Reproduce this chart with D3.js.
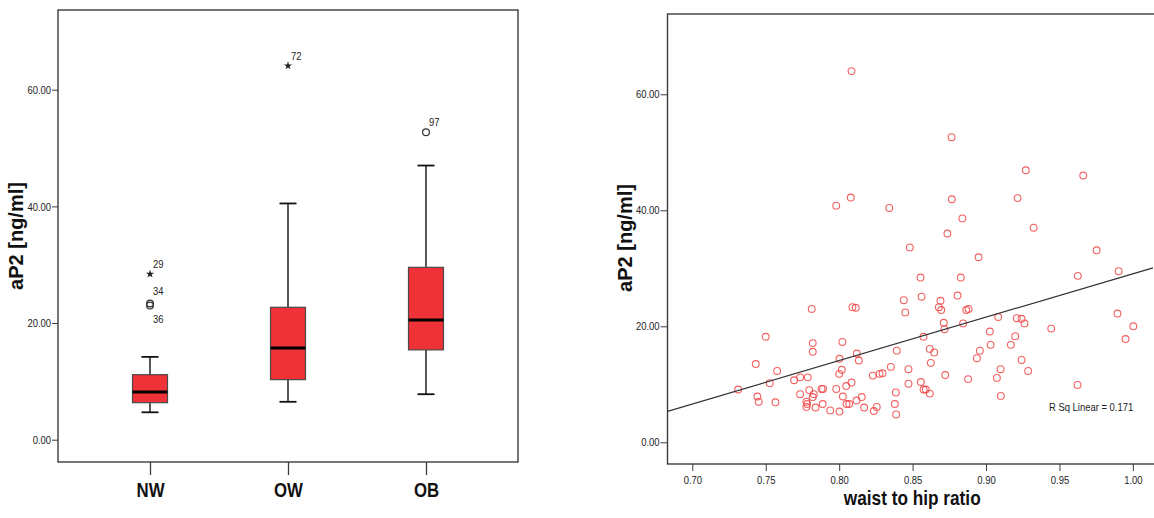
<!DOCTYPE html>
<html>
<head>
<meta charset="utf-8">
<script src="https://cdn.jsdelivr.net/npm/d3@7/dist/d3.min.js"></script>
<style>
  html, body { margin: 0; padding: 0; background: #fff; }
  svg { display: block; }
  .narrow { font-family: "Liberation Sans", Arial, sans-serif; }
  .bold { font-family: "Liberation Sans", Arial, sans-serif; font-weight: bold; }
</style>
</head>
<body>
<svg id="chart" width="1154" height="518"></svg>
<script>
// ---- Box plot: aP2 by weight group ----
const groups = ["NW", "OW", "OB"];
const whiskerLow = [4.7, 6.5, 7.8];
const quartile1 = [6.35, 10.3, 15.4];
const medians = [8.2, 15.7, 20.5];
const quartile3 = [11.15, 22.7, 29.55];
const whiskerHigh = [14.2, 40.5, 47.0];
const outlierGroup = ["NW", "NW", "NW", "OW", "OB"];
const outlierValue = [28.4, 23.35, 23.0, 64.1, 52.7];
const outlierCase = ["29", "34", "36", "72", "97"];
const outlierExtreme = [true, false, false, true, false];

// ---- Scatter: aP2 vs waist to hip ratio ----
const whr = [
  0.8084, 0.8079, 0.7980, 0.8341, 0.8765, 0.9271, 0.9662, 0.8767, 0.9215, 0.8839,
  0.8737, 0.9324, 0.8949, 0.9753, 0.9625, 0.9903, 0.8828, 0.8554, 0.8561, 0.8806,
  0.8690, 0.8679, 0.8695, 0.8865, 0.8881, 0.8712, 0.8717, 0.8844, 0.9083, 0.9210,
  0.9242, 0.9262, 0.9444, 0.9026, 0.9199, 0.9031, 0.9169, 0.9895, 1.0003, 0.9950,
  0.8574, 0.8617, 0.8647, 0.8624, 0.8958, 0.8938, 0.9242, 0.9287, 0.9099, 0.9074,
  0.8722, 0.8878, 0.8617, 0.9101, 0.9623, 0.8556, 0.8575, 0.8590, 0.8481, 0.8440,
  0.8450, 0.7813, 0.8090, 0.8113, 0.7500, 0.7820, 0.7820, 0.8022, 0.8392, 0.8002,
  0.8120, 0.8134, 0.7432, 0.7578, 0.8352, 0.8018, 0.8000, 0.8472, 0.8229, 0.8275,
  0.8295, 0.7693, 0.7734, 0.7786, 0.7527, 0.7312, 0.7796, 0.7880, 0.7890, 0.7980,
  0.8048, 0.8084, 0.8472, 0.8386, 0.7734, 0.7827, 0.7820, 0.7443, 0.7452, 0.7566,
  0.8025, 0.8154, 0.8118, 0.7777, 0.7782, 0.7839, 0.7777, 0.7888, 0.7939, 0.8002,
  0.8050, 0.8068, 0.8170, 0.8236, 0.8256, 0.8379, 0.8388
];
const ap2 = [
  64.0, 42.2, 40.8, 40.4, 52.6, 46.9, 46.0, 41.9, 42.1, 38.6,
  36.0, 37.0, 31.9, 33.1, 28.7, 29.5, 28.4, 28.4, 25.1, 25.3,
  24.4, 23.3, 22.8, 22.8, 23.0, 20.6, 19.5, 20.5, 21.6, 21.4,
  21.3, 20.5, 19.6, 19.1, 18.3, 16.8, 16.8, 22.2, 20.0, 17.8,
  18.2, 16.1, 15.5, 13.7, 15.8, 14.5, 14.2, 12.3, 12.6, 11.1,
  11.6, 10.9, 8.4, 8.0, 9.9, 10.4, 9.1, 9.1, 33.6, 24.5,
  22.4, 23.0, 23.3, 23.2, 18.2, 17.1, 15.6, 17.3, 15.8, 14.4,
  15.3, 14.1, 13.5, 12.3, 13.0, 12.5, 11.8, 12.6, 11.5, 11.8,
  11.9, 10.7, 11.2, 11.2, 10.2, 9.1, 9.0, 9.2, 9.2, 9.2,
  9.7, 10.3, 10.1, 8.6, 8.3, 8.3, 7.8, 7.9, 7.0, 6.9,
  7.9, 7.8, 7.2, 7.0, 6.6, 6.0, 6.1, 6.6, 5.5, 5.3,
  6.6, 6.6, 6.0, 5.4, 6.1, 6.6, 4.8
];
const yTicks = [0, 20, 40, 60];
const xTicks = [0.70, 0.75, 0.80, 0.85, 0.90, 0.95, 1.00];
const rSquaredText = "R Sq Linear = 0.171";

const svg = d3.select("#chart");
const fmt2 = d3.format(".2f");
const frameColor = "#3c3c3c";
const boxRed = "#ee3238";
const dotRed = "#f04545";

// squeeze glyphs horizontally to get a condensed face
function condense(selection, factor) {
  selection.each(function () {
    const w = this.getComputedTextLength();
    this.setAttribute("textLength", (w * factor).toFixed(2));
    this.setAttribute("lengthAdjust", "spacingAndGlyphs");
  });
}

// ================= Left panel: box plot =================
const L = { left: 58, right: 518, top: 10, bottom: 462 };
const xBox = d3.scalePoint().domain(groups).range([L.left, L.right]).padding(0.6667);
const yBox = d3.scaleLinear().domain([-3.82, 73.66]).range([L.bottom, L.top]);
const boxW = 35, capW = 17;

const left = svg.append("g");

// y axis
const yAxisL = left.append("g")
  .attr("transform", `translate(${L.left},0)`)
  .call(d3.axisLeft(yBox).tickValues(yTicks).tickFormat(fmt2).tickSize(6).tickPadding(1));
yAxisL.select(".domain").remove();
yAxisL.selectAll(".tick line").attr("stroke", frameColor);
yAxisL.selectAll(".tick text").attr("class", "narrow").attr("font-size", 11.5).attr("fill", "#222");

// x axis (group labels)
const xAxisL = left.append("g")
  .attr("transform", `translate(0,${L.bottom})`)
  .call(d3.axisBottom(xBox).tickSize(13).tickPadding(7));
xAxisL.select(".domain").remove();
xAxisL.selectAll(".tick line").attr("stroke", frameColor).attr("stroke-width", 1.3);
xAxisL.selectAll(".tick text").attr("class", "narrow").attr("font-size", 20.5)
  .attr("font-weight", "bold").attr("fill", "#111");

// frame
left.append("rect")
  .attr("x", L.left).attr("y", L.top)
  .attr("width", L.right - L.left).attr("height", L.bottom - L.top)
  .attr("fill", "none").attr("stroke", frameColor).attr("stroke-width", 1.4);

// boxes
groups.forEach((g, i) => {
  const cx = xBox(g);
  const gg = left.append("g");
  // whiskers
  gg.append("line").attr("x1", cx).attr("x2", cx)
    .attr("y1", yBox(whiskerLow[i])).attr("y2", yBox(quartile1[i]))
    .attr("stroke", "#111").attr("stroke-width", 1.4);
  gg.append("line").attr("x1", cx).attr("x2", cx)
    .attr("y1", yBox(quartile3[i])).attr("y2", yBox(whiskerHigh[i]))
    .attr("stroke", "#111").attr("stroke-width", 1.4);
  [whiskerLow[i], whiskerHigh[i]].forEach(v => {
    gg.append("line").attr("x1", cx - capW / 2).attr("x2", cx + capW / 2)
      .attr("y1", yBox(v)).attr("y2", yBox(v))
      .attr("stroke", "#111").attr("stroke-width", 1.8);
  });
  // box
  gg.append("rect")
    .attr("x", cx - boxW / 2).attr("y", yBox(quartile3[i]))
    .attr("width", boxW).attr("height", yBox(quartile1[i]) - yBox(quartile3[i]))
    .attr("fill", boxRed).attr("stroke", "#4a4a4a").attr("stroke-width", 1.2);
  // median
  gg.append("line").attr("x1", cx - boxW / 2).attr("x2", cx + boxW / 2)
    .attr("y1", yBox(medians[i])).attr("y2", yBox(medians[i]))
    .attr("stroke", "#000").attr("stroke-width", 3);
});

// outliers
outlierGroup.forEach((g, i) => {
  const cx = xBox(g), cy = yBox(outlierValue[i]);
  if (outlierExtreme[i]) {
    left.append("path")
      .attr("d", d3.symbol(d3.symbolStar, 22)())
      .attr("transform", `translate(${cx},${cy})`)
      .attr("fill", "#222");
  } else {
    left.append("circle").attr("cx", cx).attr("cy", cy).attr("r", 3.4)
      .attr("fill", "none").attr("stroke", "#333").attr("stroke-width", 1.2);
  }
  // case label: above-right, or below when crowded by a slightly higher case in the same group
  const crowded = outlierGroup.some((h, j) => j !== i && h === g &&
    outlierValue[j] > outlierValue[i] && outlierValue[j] - outlierValue[i] < 1);
  const stacked = outlierGroup.some((h, j) => j !== i && h === g &&
    outlierValue[j] < outlierValue[i] && outlierValue[i] - outlierValue[j] < 1);
  left.append("text")
    .attr("class", "narrow case")
    .attr("x", cx + 3)
    .attr("y", crowded ? cy + 17 : cy - (stacked ? 8 : 6))
    .attr("font-size", 11.5)
    .attr("fill", "#222")
    .text(outlierCase[i]);
});

// y label
left.append("text")
  .attr("class", "bold")
  .attr("transform", `translate(23,236) rotate(-90)`)
  .attr("text-anchor", "middle")
  .attr("font-size", 20)
  .attr("fill", "#111")
  .text("aP2 [ng/ml]");

// ================= Right panel: scatter =================
const R = { left: 667.5, right: 1153, top: 14, bottom: 464 };
const xS = d3.scaleLinear().domain([0.6831, 1.0137]).range([R.left, R.right]);
const yS = d3.scaleLinear().domain([-3.74, 73.84]).range([R.bottom, R.top]);

const right = svg.append("g");

const yAxisR = right.append("g")
  .attr("transform", `translate(${R.left},0)`)
  .call(d3.axisLeft(yS).tickValues(yTicks).tickFormat(fmt2).tickSize(7).tickPadding(1));
yAxisR.select(".domain").remove();
yAxisR.selectAll(".tick line").attr("stroke", frameColor);
yAxisR.selectAll(".tick text").attr("class", "narrow").attr("font-size", 11.5).attr("fill", "#222");

const xAxisR = right.append("g")
  .attr("transform", `translate(0,${R.bottom})`)
  .call(d3.axisBottom(xS).tickValues(xTicks).tickFormat(fmt2).tickSize(7).tickPadding(5));
xAxisR.select(".domain").remove();
xAxisR.selectAll(".tick line").attr("stroke", frameColor);
xAxisR.selectAll(".tick text").attr("class", "narrow").attr("font-size", 11.5).attr("fill", "#222");

// frame: the right side runs past the page edge
right.append("rect")
  .attr("x", R.left).attr("y", R.top)
  .attr("width", R.right - R.left + 10).attr("height", R.bottom - R.top)
  .attr("fill", "none").attr("stroke", frameColor).attr("stroke-width", 1.4);

// least-squares fit line
const mx = d3.mean(whr), my = d3.mean(ap2);
let sxy = 0, sxx = 0;
whr.forEach((x, i) => { sxy += (x - mx) * (ap2[i] - my); sxx += (x - mx) * (x - mx); });
const slope = sxy / sxx, intercept = my - slope * mx;
const [x0, x1] = xS.domain();

const plot = right.append("g");
plot.selectAll("circle.pt")
  .data(whr.map((x, i) => ({ x, y: ap2[i] })))
  .join("circle")
  .attr("class", "pt")
  .attr("cx", d => xS(d.x)).attr("cy", d => yS(d.y)).attr("r", 3.4)
  .attr("fill", "none").attr("stroke", dotRed).attr("stroke-opacity", 0.85).attr("stroke-width", 1.1);

plot.append("line")
  .attr("x1", xS(x0)).attr("y1", yS(intercept + slope * x0))
  .attr("x2", xS(x1)).attr("y2", yS(intercept + slope * x1))
  .attr("stroke", "#333").attr("stroke-width", 1.2);

right.append("text")
  .attr("class", "narrow")
  .attr("x", 1049).attr("y", 411)
  .attr("font-size", 11.5).attr("fill", "#222")
  .text(rSquaredText);

right.append("text")
  .attr("class", "bold")
  .attr("transform", `translate(632,238) rotate(-90)`)
  .attr("text-anchor", "middle")
  .attr("font-size", 20)
  .attr("fill", "#111")
  .text("aP2 [ng/ml]");

right.append("text")
  .attr("class", "narrow")
  .attr("x", (R.left + R.right) / 2 + 2).attr("y", 505)
  .attr("text-anchor", "middle")
  .attr("font-size", 21).attr("font-weight", "bold")
  .attr("fill", "#111")
  .text("waist to hip ratio");

// condensed face for all narrow texts
condense(svg.selectAll("text.narrow"), 0.82);
</script>
</body>
</html>
